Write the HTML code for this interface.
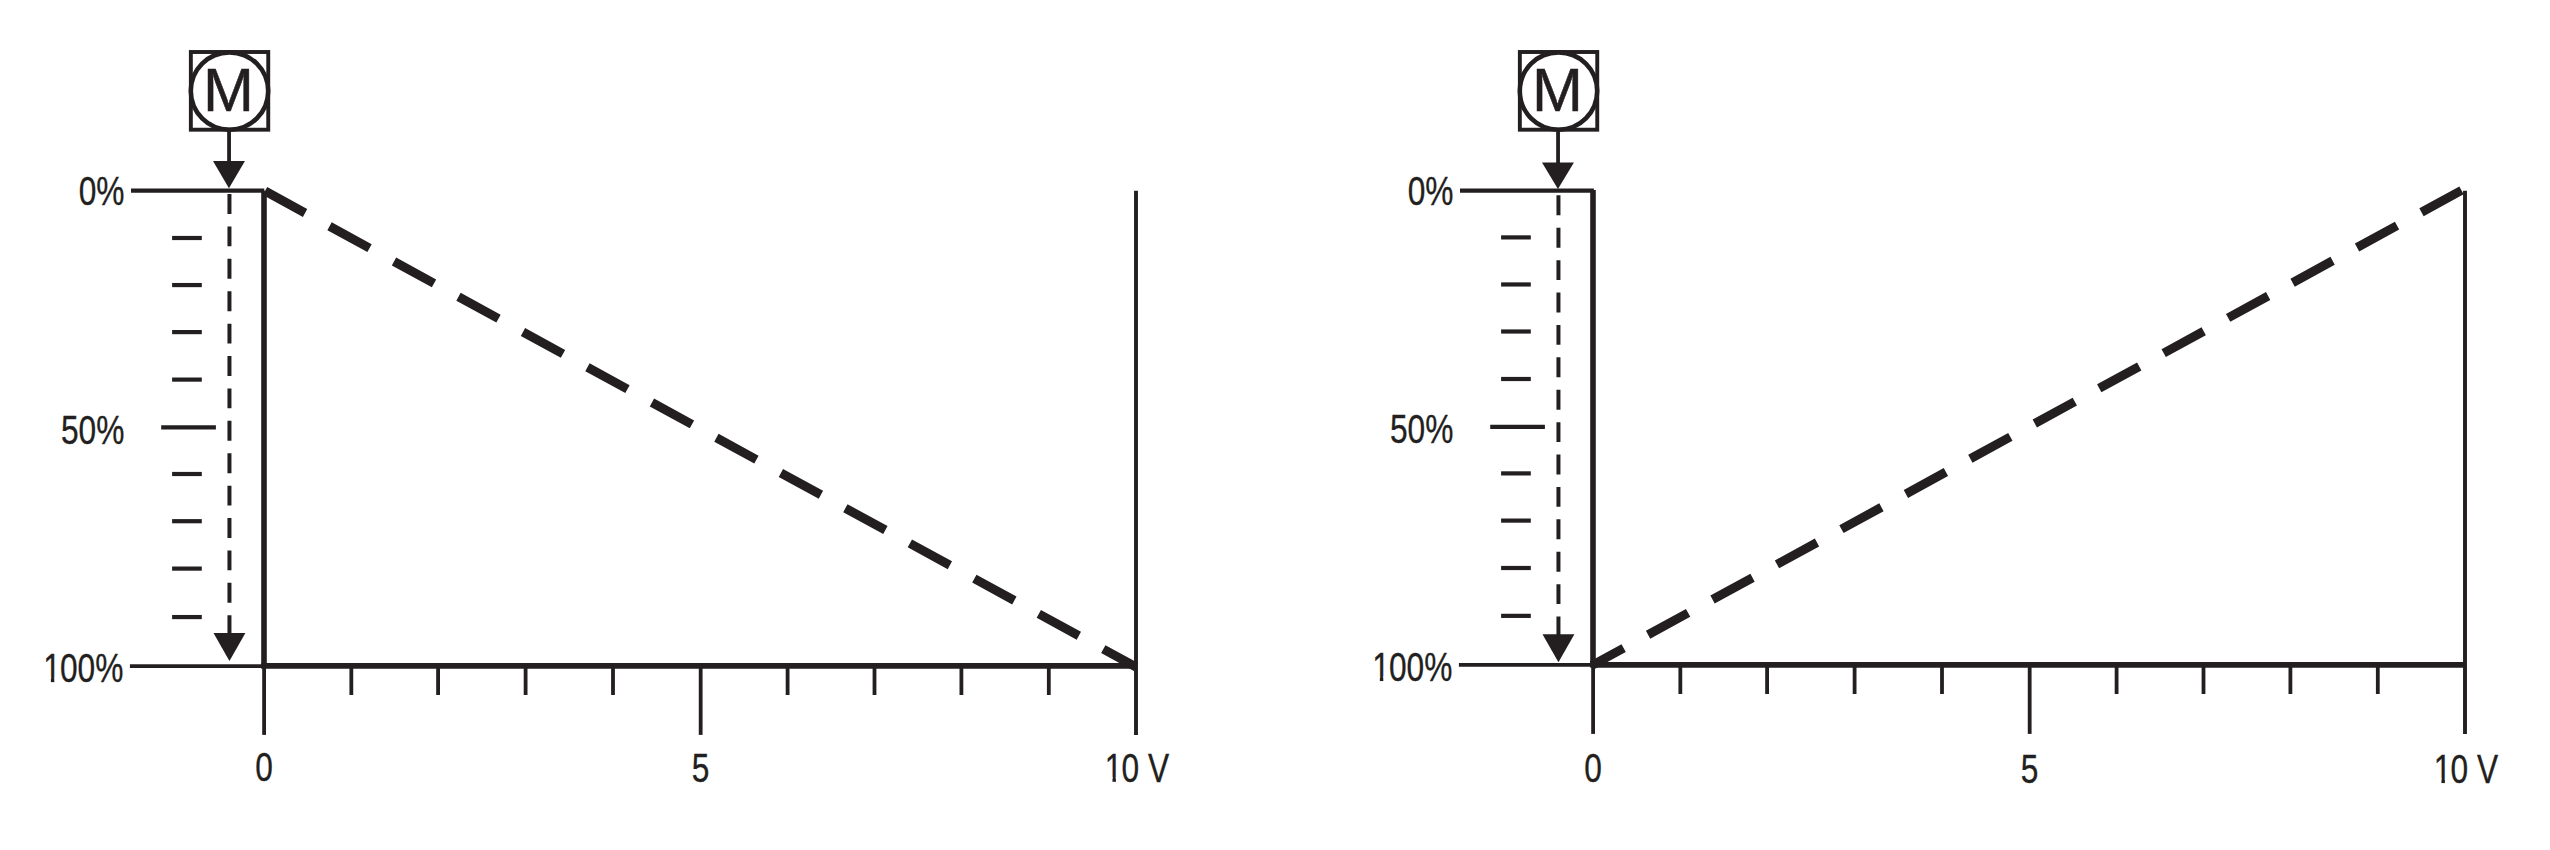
<!DOCTYPE html>
<html lang="en">
<head>
<meta charset="utf-8">
<title>Actuator characteristic 0-10 V</title>
<style>
html,body{margin:0;padding:0;background:#fff;}
body{width:2550px;height:850px;overflow:hidden;}
svg{display:block;}
text{font-family:"Liberation Sans",sans-serif;fill:#231f20;font-kerning:none;}
</style>
</head>
<body>
<svg width="2550" height="850" viewBox="0 0 2550 850">
<defs><clipPath id="no-foot" clipPathUnits="userSpaceOnUse"><rect x="-10" y="-60" width="260" height="55.28"/><rect x="10.96" y="-5.22" width="4.37" height="5.22"/><rect x="23.2" y="-60" width="240" height="80"/></clipPath></defs>
<rect width="2550" height="850" fill="#ffffff"/>
<g id="chart-left">
<rect x="190.85" y="52" width="77.4" height="77.7" fill="none" stroke="#231f20" stroke-width="3.9"/>
<circle cx="229.5" cy="91.05" r="38.7" fill="none" stroke="#231f20" stroke-width="4.6"/>
<text x="228.5" y="110.8" font-size="61.1" text-anchor="middle" stroke="#231f20" stroke-width="0.5">M</text>
<line x1="229.05" y1="131" x2="229.05" y2="163" stroke="#231f20" stroke-width="3.8"/>
<polygon points="213,161.1 244.95,161.1 228.95,188.3" fill="#231f20"/>
<line x1="131" y1="190.65" x2="264.3" y2="190.65" stroke="#231f20" stroke-width="4.3"/>
<line x1="129.9" y1="666.1" x2="264" y2="666.1" stroke="#231f20" stroke-width="3.8"/>
<line x1="172.1" y1="238" x2="201.8" y2="238" stroke="#231f20" stroke-width="4.2"/>
<line x1="172.1" y1="285.06" x2="201.8" y2="285.06" stroke="#231f20" stroke-width="4.2"/>
<line x1="172.1" y1="332.1" x2="201.8" y2="332.1" stroke="#231f20" stroke-width="4.2"/>
<line x1="172.1" y1="379.6" x2="201.8" y2="379.6" stroke="#231f20" stroke-width="4.2"/>
<line x1="161.2" y1="427.4" x2="215.9" y2="427.4" stroke="#231f20" stroke-width="4.2"/>
<line x1="172.1" y1="474" x2="201.8" y2="474" stroke="#231f20" stroke-width="4.2"/>
<line x1="172.1" y1="521.2" x2="201.8" y2="521.2" stroke="#231f20" stroke-width="4.2"/>
<line x1="172.1" y1="568.6" x2="201.8" y2="568.6" stroke="#231f20" stroke-width="4.2"/>
<line x1="172.1" y1="617.06" x2="201.8" y2="617.06" stroke="#231f20" stroke-width="4.2"/>
<line x1="229.45" y1="194.07" x2="229.45" y2="636" stroke="#231f20" stroke-width="4" stroke-dasharray="19.9 12.5"/>
<polygon points="213.5,633 245.4,633 229.45,660.95" fill="#231f20"/>
<line x1="264" y1="190.65" x2="264" y2="665.9" stroke="#231f20" stroke-width="5.6"/>
<line x1="261.2" y1="665.9" x2="1137" y2="665.9" stroke="#231f20" stroke-width="5.8"/>
<line x1="1136" y1="190.8" x2="1136" y2="734.9" stroke="#231f20" stroke-width="3.9"/>
<line x1="264.1" y1="665.9" x2="264.1" y2="734.9" stroke="#231f20" stroke-width="3.8"/>
<line x1="351.33" y1="665.9" x2="351.33" y2="695" stroke="#231f20" stroke-width="3.8"/>
<line x1="438.08" y1="665.9" x2="438.08" y2="695" stroke="#231f20" stroke-width="3.8"/>
<line x1="525.6" y1="665.9" x2="525.6" y2="695" stroke="#231f20" stroke-width="3.8"/>
<line x1="613" y1="665.9" x2="613" y2="695" stroke="#231f20" stroke-width="3.8"/>
<line x1="700.67" y1="665.9" x2="700.67" y2="734.9" stroke="#231f20" stroke-width="3.8"/>
<line x1="787.6" y1="665.9" x2="787.6" y2="695" stroke="#231f20" stroke-width="3.8"/>
<line x1="874.5" y1="665.9" x2="874.5" y2="695" stroke="#231f20" stroke-width="3.8"/>
<line x1="961.4" y1="665.9" x2="961.4" y2="695" stroke="#231f20" stroke-width="3.8"/>
<line x1="1048.8" y1="665.9" x2="1048.8" y2="695" stroke="#231f20" stroke-width="3.8"/>
<line x1="265.05" y1="191.07" x2="1136" y2="667" stroke="#231f20" stroke-width="9" stroke-dasharray="45.6 27.88"/>
<text transform="translate(78.63 204.95) scale(0.785 1)" font-size="40.4" stroke="#231f20" stroke-width="0.3" vector-effect="non-scaling-stroke">0%</text>
<text transform="translate(60.99 444.35) scale(0.785 1)" font-size="40.4" stroke="#231f20" stroke-width="0.3" vector-effect="non-scaling-stroke">50%</text>
<text transform="translate(42.25 682.45) scale(0.785 1)" font-size="40.4" stroke="#231f20" stroke-width="0.3" vector-effect="non-scaling-stroke" dx="1.2 -1.2" clip-path="url(#no-foot)">100%</text>
<text transform="translate(255.18 780.5) scale(0.785 1)" font-size="40.4" stroke="#231f20" stroke-width="0.3" vector-effect="non-scaling-stroke">0</text>
<text transform="translate(691.86 781.8) scale(0.785 1)" font-size="40.4" stroke="#231f20" stroke-width="0.3" vector-effect="non-scaling-stroke">5</text>
<text transform="translate(1103.88 781.65) scale(0.785 1)" font-size="40.4" stroke="#231f20" stroke-width="0.3" vector-effect="non-scaling-stroke" dx="1.2 -1.2" clip-path="url(#no-foot)">10 V</text>
</g>
<g id="chart-right">
<rect x="1519.85" y="52" width="77.4" height="77.7" fill="none" stroke="#231f20" stroke-width="3.9"/>
<circle cx="1558.5" cy="91.05" r="38.7" fill="none" stroke="#231f20" stroke-width="4.6"/>
<text x="1557.5" y="110.8" font-size="61.1" text-anchor="middle" stroke="#231f20" stroke-width="0.5">M</text>
<line x1="1558.05" y1="131" x2="1558.05" y2="164.3" stroke="#231f20" stroke-width="3.8"/>
<polygon points="1542,162.4 1573.95,162.4 1557.95,188.9" fill="#231f20"/>
<line x1="1460" y1="190.65" x2="1593.9" y2="190.65" stroke="#231f20" stroke-width="4.3"/>
<line x1="1458.9" y1="664.8" x2="1593" y2="664.8" stroke="#231f20" stroke-width="3.8"/>
<line x1="1501.1" y1="237.4" x2="1530.8" y2="237.4" stroke="#231f20" stroke-width="4.2"/>
<line x1="1501.1" y1="284.46" x2="1530.8" y2="284.46" stroke="#231f20" stroke-width="4.2"/>
<line x1="1501.1" y1="331.5" x2="1530.8" y2="331.5" stroke="#231f20" stroke-width="4.2"/>
<line x1="1501.1" y1="379" x2="1530.8" y2="379" stroke="#231f20" stroke-width="4.2"/>
<line x1="1490.2" y1="426.8" x2="1544.9" y2="426.8" stroke="#231f20" stroke-width="4.2"/>
<line x1="1501.1" y1="473.4" x2="1530.8" y2="473.4" stroke="#231f20" stroke-width="4.2"/>
<line x1="1501.1" y1="520.6" x2="1530.8" y2="520.6" stroke="#231f20" stroke-width="4.2"/>
<line x1="1501.1" y1="568" x2="1530.8" y2="568" stroke="#231f20" stroke-width="4.2"/>
<line x1="1501.1" y1="615.86" x2="1530.8" y2="615.86" stroke="#231f20" stroke-width="4.2"/>
<line x1="1558.45" y1="195.37" x2="1558.45" y2="637.3" stroke="#231f20" stroke-width="4" stroke-dasharray="19.9 12.5"/>
<polygon points="1542.5,634.3 1574.4,634.3 1558.45,662.25" fill="#231f20"/>
<line x1="1593" y1="189.95" x2="1593" y2="664.9" stroke="#231f20" stroke-width="5.6"/>
<line x1="1590.2" y1="664.9" x2="2466" y2="664.9" stroke="#231f20" stroke-width="5.8"/>
<line x1="2465" y1="190.8" x2="2465" y2="733.9" stroke="#231f20" stroke-width="3.9"/>
<line x1="1593.1" y1="664.9" x2="1593.1" y2="733.9" stroke="#231f20" stroke-width="3.8"/>
<line x1="1680.33" y1="664.9" x2="1680.33" y2="694" stroke="#231f20" stroke-width="3.8"/>
<line x1="1767.08" y1="664.9" x2="1767.08" y2="694" stroke="#231f20" stroke-width="3.8"/>
<line x1="1854.6" y1="664.9" x2="1854.6" y2="694" stroke="#231f20" stroke-width="3.8"/>
<line x1="1942" y1="664.9" x2="1942" y2="694" stroke="#231f20" stroke-width="3.8"/>
<line x1="2029.67" y1="664.9" x2="2029.67" y2="733.9" stroke="#231f20" stroke-width="3.8"/>
<line x1="2116.6" y1="664.9" x2="2116.6" y2="694" stroke="#231f20" stroke-width="3.8"/>
<line x1="2203.5" y1="664.9" x2="2203.5" y2="694" stroke="#231f20" stroke-width="3.8"/>
<line x1="2290.4" y1="664.9" x2="2290.4" y2="694" stroke="#231f20" stroke-width="3.8"/>
<line x1="2377.8" y1="664.9" x2="2377.8" y2="694" stroke="#231f20" stroke-width="3.8"/>
<line x1="2461.5" y1="190.4" x2="1592" y2="665.4" stroke="#231f20" stroke-width="9" stroke-dasharray="45.6 27.84"/>
<text transform="translate(1407.63 204.95) scale(0.785 1)" font-size="40.4" stroke="#231f20" stroke-width="0.3" vector-effect="non-scaling-stroke">0%</text>
<text transform="translate(1389.99 443.35) scale(0.785 1)" font-size="40.4" stroke="#231f20" stroke-width="0.3" vector-effect="non-scaling-stroke">50%</text>
<text transform="translate(1371.25 681.15) scale(0.785 1)" font-size="40.4" stroke="#231f20" stroke-width="0.3" vector-effect="non-scaling-stroke" dx="1.2 -1.2" clip-path="url(#no-foot)">100%</text>
<text transform="translate(1584.18 782) scale(0.785 1)" font-size="40.4" stroke="#231f20" stroke-width="0.3" vector-effect="non-scaling-stroke">0</text>
<text transform="translate(2020.86 783.3) scale(0.785 1)" font-size="40.4" stroke="#231f20" stroke-width="0.3" vector-effect="non-scaling-stroke">5</text>
<text transform="translate(2432.88 783.15) scale(0.785 1)" font-size="40.4" stroke="#231f20" stroke-width="0.3" vector-effect="non-scaling-stroke" dx="1.2 -1.2" clip-path="url(#no-foot)">10 V</text>
</g>
</svg>
</body>
</html>
